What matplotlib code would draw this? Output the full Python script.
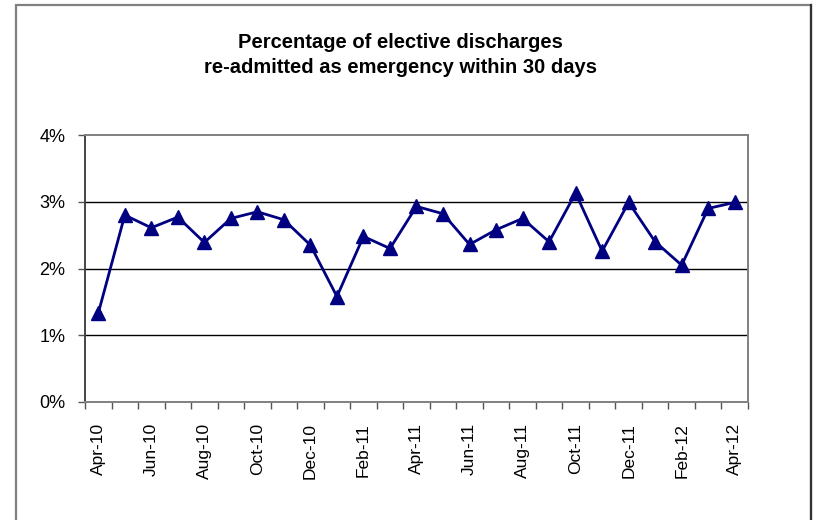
import matplotlib
matplotlib.use("Agg")
import matplotlib.pyplot as plt
from matplotlib.patches import Rectangle
from matplotlib.lines import Line2D
from matplotlib.ticker import FixedLocator, FuncFormatter

plt.rcParams['font.family'] = ['Liberation Sans', 'DejaVu Sans']

months = ['Apr-10', 'May-10', 'Jun-10', 'Jul-10', 'Aug-10', 'Sep-10', 'Oct-10',
          'Nov-10', 'Dec-10', 'Jan-11', 'Feb-11', 'Mar-11', 'Apr-11', 'May-11',
          'Jun-11', 'Jul-11', 'Aug-11', 'Sep-11', 'Oct-11', 'Nov-11', 'Dec-11',
          'Jan-12', 'Feb-12', 'Mar-12', 'Apr-12']
readmit_pct = [1.33, 2.80, 2.61, 2.77, 2.39, 2.75, 2.85, 2.73, 2.35, 1.58,
               2.48, 2.30, 2.93, 2.82, 2.36, 2.58, 2.75, 2.40, 3.13, 2.26,
               2.99, 2.40, 2.05, 2.90, 2.99]
y_ticks = [0, 1, 2, 3, 4]
title = 'Percentage of elective discharges\nre-admitted as emergency within 30 days'

fig = plt.figure(figsize=(8.15, 5.2), dpi=100)
W, H = 815, 520

# outer chart frame, darker on the right edge
fig.patches.append(Rectangle((15.5 / W, -0.05), (810.5 - 15.5) / W, 1.05 - 5 / H,
                             transform=fig.transFigure, fill=False,
                             edgecolor='#808080', linewidth=1.6))
fig.lines.append(Line2D([810.5 / W, 810.5 / W], [0, 1 - 5 / H],
                        transform=fig.transFigure, color='#333333',
                        linewidth=1.6))

ax = fig.add_axes([85 / W, 1 - 402 / H, (748 - 85) / W, (402 - 135) / H])

x = range(len(months))
ax.plot(x, readmit_pct, color='#000080', linewidth=2.0, marker='^',
        markersize=10, markerfacecolor='#000080', markeredgecolor='#000080',
        zorder=3)

ax.set_xlim(-0.5, len(months) - 0.5)
ax.set_ylim(0, 4)

ax.set_yticks(y_ticks)
ax.yaxis.set_major_formatter(FuncFormatter(lambda v, _: f'{v:.0f}%'))
ax.tick_params(axis='y', length=5, width=1, color='#555555', pad=9,
               labelsize=13)

for v in y_ticks[1:-1]:
    ax.axhline(v, color='black', linewidth=1.0, zorder=1)

# labels at every second month, ticks on category boundaries
label_pos = list(range(0, len(months), 2))
ax.set_xticks(label_pos)
ax.set_xticklabels([months[i] for i in label_pos], rotation=90,
                   fontsize=12.5)
ax.tick_params(axis='x', which='major', length=0, pad=15)
bounds = [i - 0.5 for i in range(len(months) + 1)]
ax.xaxis.set_minor_locator(FixedLocator(bounds))
ax.tick_params(axis='x', which='minor', length=5, width=1, color='#555555')

for side in ['top', 'right', 'bottom']:
    ax.spines[side].set_color('#808080')
    ax.spines[side].set_linewidth(1.4)
ax.spines['left'].set_color('#444444')
ax.spines['left'].set_linewidth(1.4)

fig.text(400 / W, 1 - 55 / H, title, ha='center', va='center',
         fontsize=14.5, fontweight='bold', linespacing=1.35)

fig.savefig('out.png', dpi=100)
